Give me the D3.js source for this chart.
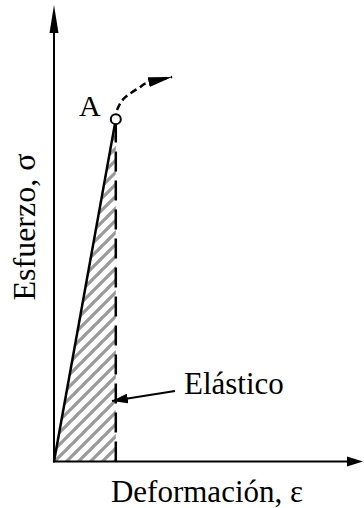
<!DOCTYPE html>
<html>
<head>
<meta charset="utf-8">
<script src="https://cdn.jsdelivr.net/npm/d3@7"></script>
<style>
  body { margin: 0; background: #fff; }
</style>
</head>
<body>
<svg id="chart" width="364" height="508"></svg>
<script>
// strain / stress values (arbitrary units)
const elasticLine = [[0, 0], [1, 3]];          // origin -> point A
const pointA = [1, 3];
const plasticCurve = [[1.02, 3.08], [1.15, 3.19], [1.39, 3.28], [1.52, 3.32], [1.91, 3.37]];
const labels = { x: "Deformación, ε", y: "Esfuerzo, σ", a: "A", elastic: "Elástico" };

const FONT = "'Liberation Serif', 'Times New Roman', Times, serif";
const svg = d3.select("#chart");

const x = d3.scaleLinear().domain([0, 5]).range([54, 363]);
const y = d3.scaleLinear().domain([0, 4]).range([461.5, 5]);

// hatch pattern
const defs = svg.append("defs");
const pat = defs.append("pattern")
    .attr("id", "hatch")
    .attr("patternUnits", "userSpaceOnUse")
    .attr("width", 12).attr("height", 12);
pat.append("path")
    .attr("d", "M-3,3 L3,-3 M0,12 L12,0 M9,15 L15,9")
    .attr("stroke", "#9a9a9a")
    .attr("stroke-width", 3.2);

function marker(id, len, w) {
  defs.append("marker")
      .attr("id", id)
      .attr("viewBox", `0 0 ${len} ${w}`)
      .attr("refX", len).attr("refY", w / 2)
      .attr("markerWidth", len).attr("markerHeight", w)
      .attr("markerUnits", "userSpaceOnUse")
      .attr("orient", "auto")
    .append("path").attr("d", `M0,0 L${len},${w / 2} L0,${w} Z`).attr("fill", "#000");
}
marker("head", 16, 10);
marker("bighead", 24, 10);

// hatched elastic region
const region = [[0, 0], pointA, [pointA[0], 0]];
svg.append("path")
    .attr("d", d3.line().x(d => x(d[0])).y(d => y(d[1]))(region) + "Z")
    .attr("fill", "url(#hatch)");

// axes with arrows
svg.append("line")
    .attr("x1", x(0)).attr("y1", y(0) + 1)
    .attr("x2", x(0)).attr("y2", y(3.86))
    .attr("stroke", "#000").attr("stroke-width", 2);
svg.append("path")
    .attr("d", `M${x(0) - 4.5},${y(4) + 28} L${x(0)},${y(4)} L${x(0) + 4.5},${y(4) + 28} Z`)
    .attr("fill", "#000");
svg.append("line")
    .attr("x1", x(0) - 1).attr("y1", y(0))
    .attr("x2", x(4.8)).attr("y2", y(0))
    .attr("stroke", "#000").attr("stroke-width", 2);
svg.append("path")
    .attr("d", `M${x(5)},${y(0)} L${x(5) - 16},${y(0) - 5} L${x(5) - 16},${y(0) + 5} Z`)
    .attr("fill", "#000");

// dashed vertical at A
svg.append("line")
    .attr("x1", x(pointA[0])).attr("y1", y(0))
    .attr("x2", x(pointA[0])).attr("y2", y(pointA[1]) + 5)
    .attr("stroke", "#000").attr("stroke-width", 2.5)
    .attr("stroke-dasharray", "20,9");

// elastic line
svg.append("path")
    .attr("d", d3.line().x(d => x(d[0])).y(d => y(d[1]))(elasticLine))
    .attr("stroke", "#000").attr("stroke-width", 2.5).attr("fill", "none");

// plastic dashed curve
svg.append("path")
    .attr("d", d3.line().x(d => x(d[0])).y(d => y(d[1])).curve(d3.curveNatural)(plasticCurve))
    .attr("stroke", "#000").attr("stroke-width", 2.5).attr("fill", "none")
    .attr("stroke-dasharray", "7,4")
    .attr("marker-end", "url(#bighead)");

// point A
svg.append("circle")
    .attr("cx", x(pointA[0])).attr("cy", y(pointA[1]))
    .attr("r", 5).attr("fill", "#fff")
    .attr("stroke", "#000").attr("stroke-width", 2);
svg.append("text")
    .attr("x", 79).attr("y", 116)
    .attr("font-family", FONT)
    .attr("font-size", 30)
    .text(labels.a);

// Elastic label + arrow
svg.append("line")
    .attr("x1", 175).attr("y1", 391)
    .attr("x2", 112).attr("y2", 401)
    .attr("stroke", "#000").attr("stroke-width", 2)
    .attr("marker-end", "url(#head)");
svg.append("text")
    .attr("x", 184).attr("y", 394)
    .attr("font-family", FONT)
    .attr("font-size", 31)
    .text(labels.elastic);

// axis titles
svg.append("text")
    .attr("x", 207).attr("y", 502)
    .attr("text-anchor", "middle")
    .attr("font-family", FONT)
    .attr("font-size", 31)
    .text(labels.x);
svg.append("text")
    .attr("transform", "translate(35,227) rotate(-90)")
    .attr("text-anchor", "middle")
    .attr("font-family", FONT)
    .attr("font-size", 32)
    .text(labels.y);
</script>
</body>
</html>
